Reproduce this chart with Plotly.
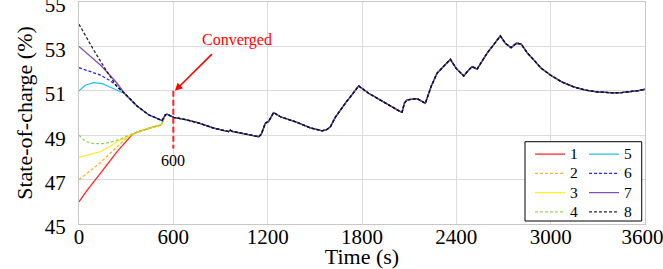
import plotly.graph_objects as go

# ---------------- data ----------------
series_names = ["1", "2", "3", "4", "5", "6", "7", "8"]
series_colors = ["#ff0000", "#ffaa00", "#ffee00", "#88cc44", "#00b4f0", "#0000ff", "#7030a0", "#000000"]
series_dash = ["solid", "3px,2px", "solid", "3px,2px", "solid", "3px,2px", "solid", "3px,2px"]

# initial (pre-convergence) segments of each cell
t_init_1 = [0, 50, 136, 200, 242, 300, 340]
soc_init_1 = [46.0, 46.5, 47.28, 47.85, 48.26, 48.72, 49.04]
t_init_2 = [0, 60, 136, 200, 242, 300, 340]
soc_init_2 = [47.0, 47.35, 47.76, 48.2, 48.48, 48.85, 49.04]
t_init_3 = [0, 60, 136, 200, 242, 300, 340]
soc_init_3 = [48.0, 48.1, 48.26, 48.5, 48.71, 48.9, 49.04]
t_init_4 = [0, 40, 93, 150, 199, 260, 305, 340]
soc_init_4 = [49.0, 48.72, 48.62, 48.62, 48.68, 48.82, 48.96, 49.04]
t_init_5 = [0, 40, 93, 150, 199, 250, 290]
soc_init_5 = [51.0, 51.25, 51.37, 51.32, 51.16, 51.0, 50.88]
t_init_6 = [0, 60, 136, 200, 242, 290]
soc_init_6 = [52.04, 51.9, 51.71, 51.45, 51.22, 50.88]
t_init_7 = [0, 60, 136, 200, 242, 290]
soc_init_7 = [53.0, 52.63, 52.16, 51.68, 51.34, 50.88]
t_init_8 = [0, 93, 178, 242, 290]
soc_init_8 = [54.0, 52.84, 51.86, 51.18, 50.88]

# branch followed by the low-SOC group (1-4) before merging
t_lower = [375, 411, 475, 517, 528]
soc_lower = [49.15, 49.24, 49.38, 49.45, 49.52]
# branch followed by the high-SOC group (5-8) before merging
t_upper = [330, 369, 411, 443, 496, 528]
soc_upper = [50.58, 50.32, 50.09, 49.92, 49.76, 49.66]

# common trajectory after merging
t_common = [549, 560, 602, 680, 760, 857, 952, 962, 975, 1069, 1143, 1160, 1185, 1206, 1238,
            1281, 1387, 1471, 1546, 1575, 1599, 1630, 1662, 1700, 1726, 1779, 1842, 1917, 1980,
            2044, 2055, 2070, 2087, 2150, 2203, 2240, 2277, 2319, 2362, 2400, 2447, 2480, 2500,
            2532, 2560, 2595, 2640, 2680, 2712, 2748, 2782, 2812, 2850, 2892, 2940, 2998, 3070,
            3146, 3220, 3295, 3350, 3401, 3450, 3507, 3560, 3600]
soc_common = [49.92, 49.95, 49.80, 49.70, 49.55, 49.32, 49.16, 49.23, 49.17, 49.03, 48.93, 49.05,
              49.54, 49.62, 50.02, 49.83, 49.58, 49.33, 49.20, 49.25, 49.38, 49.80, 50.14, 50.50,
              50.73, 51.22, 50.89, 50.59, 50.30, 50.06, 50.04, 50.45, 50.59, 50.65, 50.44, 51.20,
              51.79, 52.09, 52.42, 52.00, 51.67, 51.95, 52.09, 51.98, 52.30, 52.69, 53.10, 53.47,
              53.14, 52.94, 53.14, 53.11, 52.72, 52.39, 52.02, 51.71, 51.40, 51.18, 51.03, 50.95,
              50.92, 50.91, 50.92, 50.96, 51.01, 51.07]

# convergence marker
t_converged = [600, 600]
soc_converged = [51.0, 48.4]

x_ticks = [0, 600, 1200, 1800, 2400, 3000, 3600]
x_tick_labels = ["0", "600", "1200", "1800", "2400", "3000", "3600\u00a0"]
y_ticks = [45, 47, 49, 51, 53, 55]

# ---------------- figure ----------------
SERIF = "Liberation Serif"
inits = [(t_init_1, soc_init_1), (t_init_2, soc_init_2), (t_init_3, soc_init_3), (t_init_4, soc_init_4),
         (t_init_5, soc_init_5), (t_init_6, soc_init_6), (t_init_7, soc_init_7), (t_init_8, soc_init_8)]

fig = go.Figure()
for i, (ti, si) in enumerate(inits):
    if i < 4:
        tx = ti + t_lower + t_common
        sy = si + soc_lower + soc_common
        lg = "legend"
    else:
        tx = ti + t_upper + t_common
        sy = si + soc_upper + soc_common
        lg = "legend2"
    fig.add_trace(go.Scatter(
        x=tx, y=sy, mode="lines",
        name="<span style='font-size:15.5px'>" + series_names[i] + "</span>",
        line=dict(color=series_colors[i], width=1.3, dash=series_dash[i]),
        opacity=0.85,
        legend=lg,
    ))

fig.add_trace(go.Scatter(
    x=t_converged, y=soc_converged, mode="lines", showlegend=False,
    line=dict(color="#ff2020", width=2, dash="6px,3px"),
))

# legend frame
fig.add_shape(type="rect", xref="paper", yref="paper", x0=0.788, x1=0.9942, y0=0.0135, y1=0.3707,
              line=dict(color="black", width=1), fillcolor="white", layer="above")

fig.add_annotation(x=1008, y=53.29, text="Converged", showarrow=False,
                   font=dict(family=SERIF, size=16, color="#ff0000"))
fig.add_annotation(x=610, y=51.0, ax=855, ay=52.72, axref="x", ayref="y", text="",
                   showarrow=True, arrowhead=2, arrowsize=1, arrowwidth=1.5,
                   arrowcolor="#ff0000", standoff=0)
fig.add_annotation(x=600, y=47.84, text="600", showarrow=False,
                   font=dict(family=SERIF, size=16, color="black"))

legend_common = dict(bgcolor="rgba(0,0,0,0)", borderwidth=0, xanchor="left", yanchor="top",
                     font=dict(family=SERIF, size=12.5, color="black"), itemwidth=30,
                     tracegroupgap=0)
fig.update_layout(
    width=663, height=269,
    margin=dict(l=79, r=18, t=2, b=45),
    paper_bgcolor="white", plot_bgcolor="white",
    font=dict(family=SERIF, color="black"),
    legend=dict(x=(530 - 79) / 566, y=(224 - 139.5) / 222, **legend_common),
    legend2=dict(x=(584 - 79) / 566, y=(224 - 139.5) / 222, **legend_common),
    xaxis=dict(range=[0, 3600], tickvals=x_ticks, ticktext=x_tick_labels, ticks="", showgrid=True,
               gridcolor="#dcdcdc", gridwidth=1, showline=True, linecolor="#c8c8c8", linewidth=1,
               mirror=True, zeroline=False, automargin=False, ticklabeloverflow="allow",
               ticklabelstandoff=-6,
               tickfont=dict(family=SERIF, size=21, color="black"),
               title=dict(text="Time (s)", font=dict(family=SERIF, size=22, color="black"), standoff=2)),
    yaxis=dict(range=[45, 55], tickvals=y_ticks, ticks="", showgrid=True, gridcolor="#dcdcdc",
               gridwidth=1, showline=True, linecolor="#c8c8c8", linewidth=1, mirror=True,
               zeroline=False, automargin=False, ticklabeloverflow="allow",
               tickfont=dict(family=SERIF, size=21, color="black"),
               ticklabelstandoff=8, ticklabelshift=3,
               title=dict(text="State-of-charge (%)", font=dict(family=SERIF, size=22, color="black"),
                          standoff=6)),
)

fig.write_html("out.html", config={"displayModeBar": False},
               post_script="document.body.style.margin='0';")
